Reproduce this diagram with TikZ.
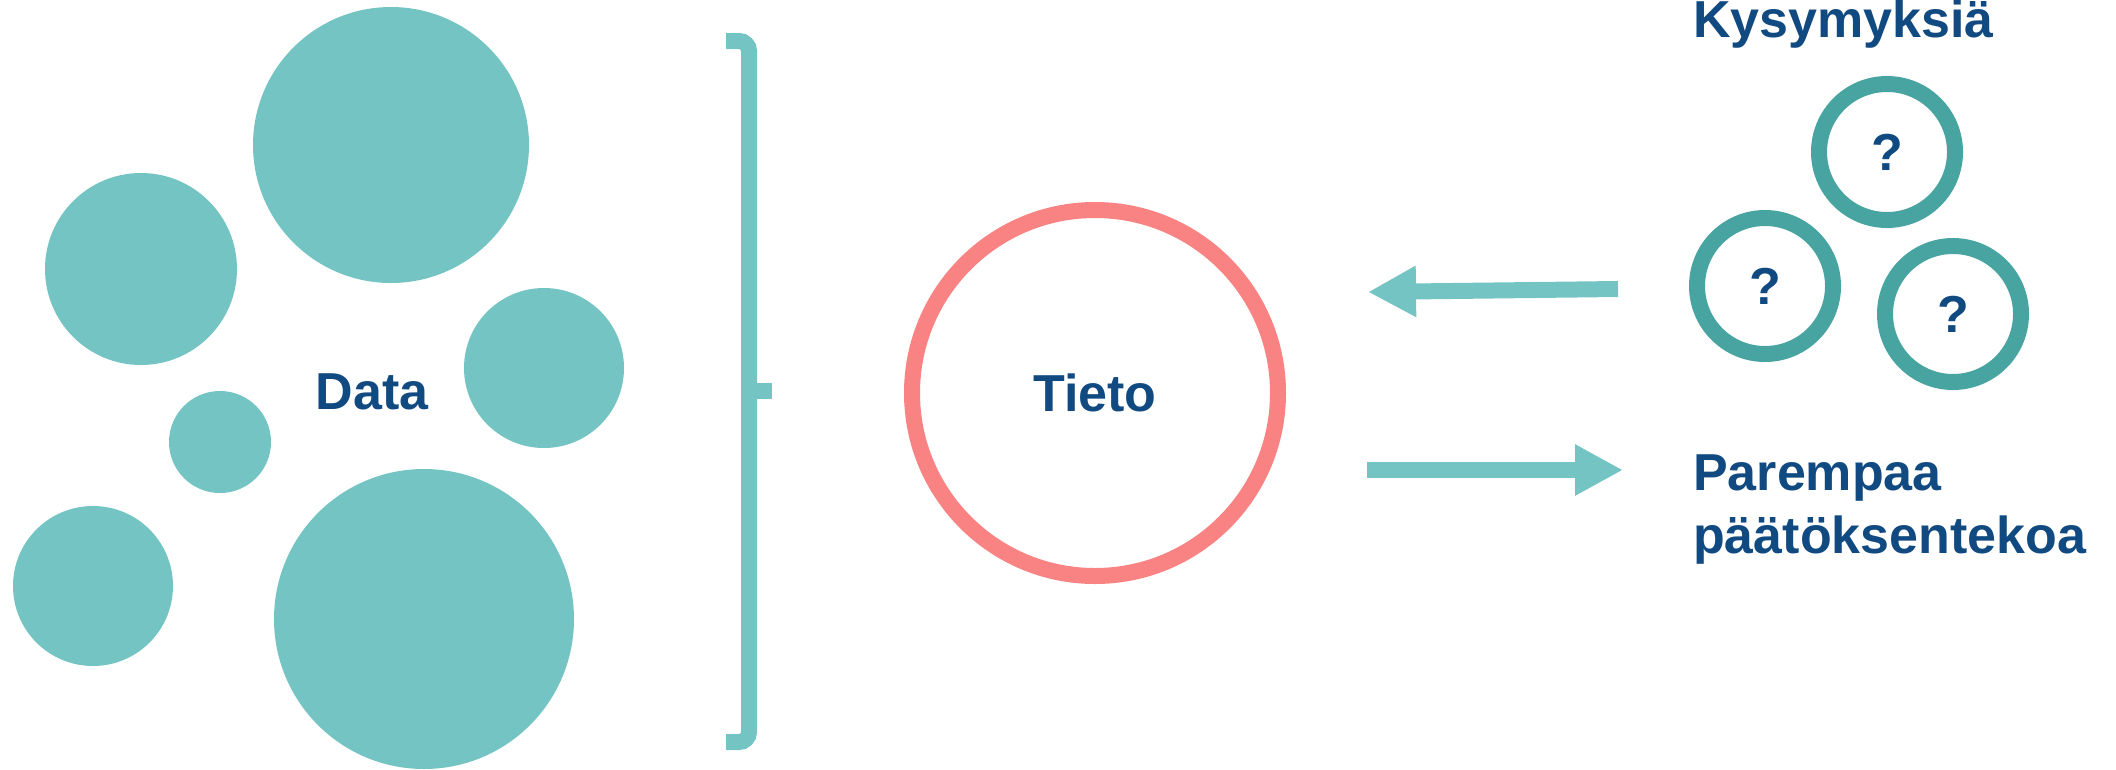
\documentclass[tikz,border=0pt]{standalone}
\usepackage{fontspec}
\setmainfont{Liberation Sans}
\usepackage{xcolor}
\usepackage{tikz}
\usetikzlibrary{arrows.meta, positioning}

\definecolor{datateal}{RGB}{116,196,195}
\definecolor{ringteal}{RGB}{72,164,161}
\definecolor{tietored}{RGB}{249,131,131}
\definecolor{textblue}{RGB}{17,74,128}

\begin{document}
\begin{tikzpicture}[x=1pt, y=-1pt,
		bluetext/.style = {font=\fontsize{52}{63}\selectfont\bfseries, text=textblue, inner sep=0pt},
		question/.style = {circle, draw=ringteal, line width=16pt, minimum size=136pt, inner sep=0pt, bluetext},
		flow/.style = {draw=datateal, line width=16pt, -{Triangle[length=48pt, width=48pt]}}]
		\def\w{16pt};
		\def\R{366pt};

		\useasboundingbox (0,0) rectangle (2116,769);

		% data
		\fill[datateal] (391,145) circle (138pt);
		\fill[datateal] (141,269) circle (96pt);
		\fill[datateal] (544,368) circle (80pt);
		\fill[datateal] (220,442) circle (51pt);
		\fill[datateal] (93,586) circle (80pt);
		\fill[datateal] (424,619) circle (150pt);
		\node[bluetext] (data) at (372,392) {Data};

		\draw[datateal, line width=\w, rounded corners=10pt] (726,41) -- (749,41) -- (749,742) -- (726,742);
		\draw[datateal, line width=\w] (749,391) -- (772,391);

		% tieto
		\node[circle, draw=tietored, line width=\w, minimum size=\R, inner sep=0pt, bluetext] (tieto) at (1095,393) {Tieto};

		% kysymyksia
		\node[bluetext, anchor=base west] (kys) at (1693,37) {Kysymyksiä};
		\node[question] (q1) at (1887,152) {?};
		\node[question] (q2) at (1765,286) {?};
		\node[question] (q3) at (1953,314) {?};

		\node[bluetext, anchor=base west, align=left] (paatos) at (1693,553) {Parempaa\\päätöksentekoa};

		\coordinate (qin) at (1618,289);
		\coordinate (qout) at (1368,292);
		\coordinate (pin) at (1367,470);
		\coordinate (pout) at (1623,470);
		\draw[flow] (qin) -- (qout);
		\draw[flow] (pin) -- (pout);
	\end{tikzpicture}
\end{document}
